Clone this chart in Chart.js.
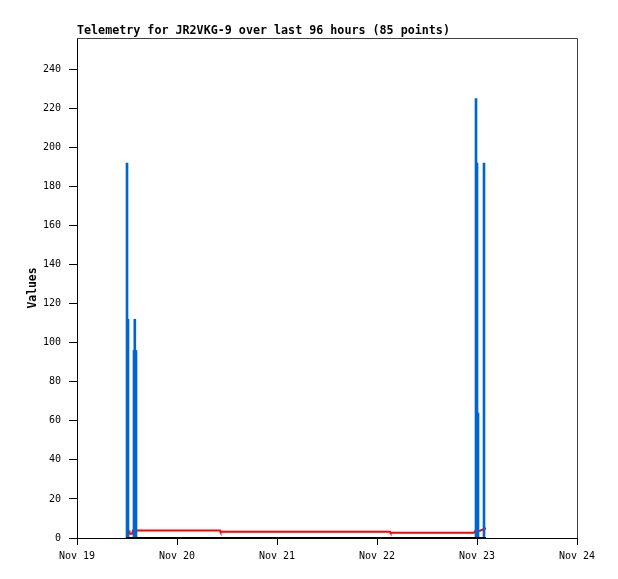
<!DOCTYPE html>
<html>
<head>
<meta charset="utf-8">
<script src="https://cdn.jsdelivr.net/npm/chart.js@4"></script>
<style>
  body { margin: 0; background: #fff; }
  canvas { display: block; }
</style>
</head>
<body>
<canvas id="myChart" width="618" height="579"></canvas>
<script>
// data, x in days since Nov 19 00:00
const titleText = 'Telemetry for JR2VKG-9 over last 96 hours (85 points)';
const xTicks = ['Nov 19', 'Nov 20', 'Nov 21', 'Nov 22', 'Nov 23', 'Nov 24'];
const yTicks = [0, 20, 40, 60, 80, 100, 120, 140, 160, 180, 200, 220, 240];

const blueX = [0.50, 0.51, 0.57, 0.578, 0.59, 3.99, 4.00, 4.01, 4.07];
const blueY = [192, 112, 96, 112, 96, 225, 192, 64, 192];

const redX = [0.52, 0.525, 0.55, 0.56, 1.43, 1.435, 3.13, 3.135, 3.97, 3.98, 4.00, 4.03, 4.09];
const redY = [3.8, 2.2, 2.2, 3.8, 3.8, 3.25, 3.25, 2.75, 2.75, 3.5, 3.5, 3.7, 5];

const blackX = [0.49, 4.09];
const blackY = [0, 0];

const mono = "'DejaVu Sans Mono', monospace";

const frame = {
  id: 'frame',
  afterDraw(chart) {
    const c = chart.ctx, a = chart.chartArea;
    c.save();
    c.strokeStyle = '#404040';
    c.lineWidth = 1;
    c.beginPath();
    c.moveTo(a.left, a.top + 0.5);
    c.lineTo(a.right + 0.5, a.top + 0.5);
    c.lineTo(a.right + 0.5, a.bottom);
    c.stroke();
    c.fillStyle = '#000';
    c.font = "bold 11.7px " + mono;
    c.textBaseline = 'alphabetic';
    c.fillText(titleText, a.left, 34);
    c.restore();
  }
};

const ctx = document.getElementById('myChart');

const chart = new Chart(ctx, {
  type: 'bar',
  data: {
    datasets: [{
      type: 'bar',
      data: blueX.map((x, i) => ({ x: x, y: blueY[i] })),
      backgroundColor: '#0066cc',
      barThickness: 2,
      grouped: false,
      order: 1
    }, {
      type: 'line',
      data: redX.map((x, i) => ({ x: x, y: redY[i] })),
      borderColor: '#ff0000',
      borderWidth: 2,
      pointRadius: 0,
      tension: 0,
      clip: 4,
      order: 2
    }, {
      type: 'line',
      data: blackX.map((x, i) => ({ x: x, y: blackY[i] })),
      borderColor: '#000',
      borderWidth: 2,
      pointRadius: 0,
      clip: 4,
      order: 0
    }]
  },
  options: {
    responsive: false,
    animation: false,
    devicePixelRatio: 1,
    layout: { padding: { top: 38, right: 41, left: 0, bottom: 0 } },
    plugins: {
      legend: { display: false },
      tooltip: { enabled: false }
    },
    scales: {
      x: {
        type: 'linear',
        min: 0,
        max: 5,
        offset: false,
        afterFit: s => { s.height = 41; },
        afterBuildTicks: s => { s.ticks = xTicks.map((t, i) => ({ value: i })); },
        grid: { drawOnChartArea: false, tickLength: 7, color: '#000', offset: false },
        border: { color: '#000' },
        ticks: {
          color: '#000',
          font: { family: mono, size: 10 },
          padding: 5,
          maxRotation: 0,
          callback: (v, i) => xTicks[i]
        }
      },
      y: {
        min: 0,
        max: 256,
        afterFit: s => { s.width = 77; },
        afterBuildTicks: s => { s.ticks = yTicks.map(v => ({ value: v })); },
        grid: { drawOnChartArea: false, tickLength: 8, color: '#000' },
        border: { color: '#000' },
        ticks: {
          color: '#000',
          font: { family: mono, size: 10 },
          padding: 8
        },
        title: {
          display: true,
          text: 'Values',
          color: '#000',
          font: { family: mono, size: 11.4, weight: 'bold' },
          padding: { top: 26, bottom: 0 }
        }
      }
    }
  },
  plugins: [frame]
});
</script>
</body>
</html>
